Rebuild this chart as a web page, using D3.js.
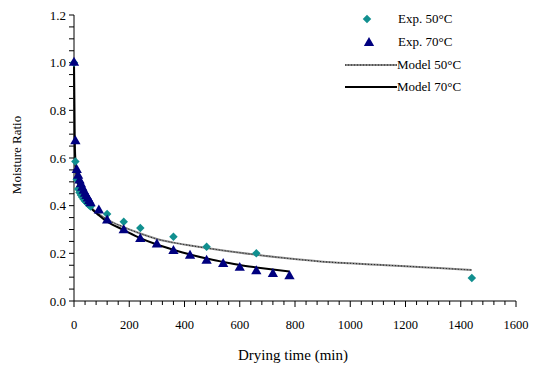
<!DOCTYPE html>
<html><head><meta charset="utf-8">
<script src="https://cdn.jsdelivr.net/npm/d3@7"></script>
<style>body{margin:0;background:#fff}svg{display:block}</style>
</head><body><svg id="c" width="533" height="378" font-family="'Liberation Serif', 'Times New Roman', 'DejaVu Serif', serif"></svg>
<script>
// Experimental data
const exp50Time = [0, 5, 10, 15, 20, 25, 30, 35, 40, 45, 50, 55, 60, 120, 180, 240, 360, 480, 660, 1440];
const exp50MR   = [1.0, 0.585, 0.51, 0.47, 0.455, 0.445, 0.435, 0.427, 0.42, 0.414, 0.408, 0.402, 0.397, 0.365, 0.333, 0.306, 0.27, 0.228, 0.20, 0.097];
const exp70Time = [0, 5, 10, 15, 20, 25, 30, 35, 40, 45, 50, 55, 60, 90, 120, 180, 240, 300, 360, 420, 480, 540, 600, 660, 720, 780];
const exp70MR   = [1.0, 0.67, 0.55, 0.525, 0.505, 0.49, 0.475, 0.462, 0.45, 0.44, 0.43, 0.42, 0.41, 0.38, 0.338, 0.297, 0.26, 0.237, 0.21, 0.19, 0.169, 0.155, 0.139, 0.125, 0.113, 0.104];
// Model curves
const model50Time = [0, 2, 5, 10, 20, 40, 60, 90, 120, 180, 240, 300, 360, 420, 480, 540, 660, 780, 900, 1000, 1100, 1200, 1320, 1440];
const model50MR   = [1.0, 0.72, 0.6, 0.53, 0.475, 0.425, 0.395, 0.365, 0.342, 0.31, 0.283, 0.26, 0.245, 0.233, 0.222, 0.212, 0.194, 0.178, 0.165, 0.158, 0.152, 0.146, 0.138, 0.13];
const model70Time = [0, 2, 5, 10, 20, 40, 60, 90, 120, 180, 240, 300, 360, 420, 480, 540, 600, 660, 720, 780];
const model70MR   = [1.0, 0.7, 0.58, 0.52, 0.475, 0.425, 0.392, 0.36, 0.333, 0.298, 0.264, 0.237, 0.215, 0.195, 0.178, 0.164, 0.151, 0.141, 0.132, 0.124];
const xTicks = [0, 200, 400, 600, 800, 1000, 1200, 1400, 1600];
const yTicks = [0.0, 0.2, 0.4, 0.6, 0.8, 1.0, 1.2];
const legendLabels = ["Exp. 50°C", "Exp. 70°C", "Model 50°C", "Model 70°C"];

const svg = d3.select("#c");
const x = d3.scaleLinear().domain([0, 1600]).range([74, 516]);
const y = d3.scaleLinear().domain([0, 1.2]).range([301, 15]);

// axes
const gx = svg.append("g").attr("transform", "translate(0,301)");
gx.append("line").attr("x1", x(0)).attr("x2", x(1600)).attr("stroke", "#000");
gx.selectAll(".mt").data(d3.range(0, 1601, 40)).join("line")
  .attr("x1", d => x(d)).attr("x2", d => x(d)).attr("y1", 0).attr("y2", d => d % 200 === 0 ? 6 : 4).attr("stroke", "#000");
gx.selectAll(".lb").data(xTicks).join("text")
  .attr("x", d => x(d)).attr("y", 28).attr("text-anchor", "middle").attr("font-size", 12.5).text(d => d);

const gy = svg.append("g").attr("transform", "translate(74,0)");
gy.append("line").attr("y1", y(0)).attr("y2", y(1.2)).attr("stroke", "#000");
gy.selectAll(".mt").data(d3.range(0, 25)).join("line")
  .attr("y1", d => y(d * 0.05)).attr("y2", d => y(d * 0.05)).attr("x1", -5).attr("x2", 0).attr("stroke", "#000");
gy.selectAll(".lb").data(yTicks).join("text")
  .attr("x", -8).attr("y", d => y(d) + 4.5).attr("text-anchor", "end").attr("font-size", 13).text(d => d.toFixed(1));

svg.append("text").attr("x", 293).attr("y", 360).attr("text-anchor", "middle").attr("font-size", 15).text("Drying time (min)");
svg.append("text").attr("transform", "translate(21,155) rotate(-90)").attr("text-anchor", "middle").attr("font-size", 13).text("Moisture Ratio");

// model lines
const line = d3.line().x(d => x(d[0])).y(d => y(d[1])).curve(d3.curveMonotoneX);
const m50 = model50Time.map((t, i) => [t, model50MR[i]]);
const m70 = model70Time.map((t, i) => [t, model70MR[i]]);
svg.append("path").attr("d", line(m50)).attr("fill", "none").attr("stroke", "#888").attr("stroke-width", 2);
svg.append("path").attr("d", line(m50)).attr("fill", "none").attr("stroke", "#222").attr("stroke-width", 1).attr("stroke-dasharray", "1,2");
svg.append("path").attr("d", line(m70)).attr("fill", "none").attr("stroke", "#000").attr("stroke-width", 2);

// markers
const diamond = d3.symbol().type(d3.symbolDiamond2).size(46);
const tri = d3.symbol().type(d3.symbolTriangle).size(46);
const teal = "#118f8f", navy = "#00007f";
svg.selectAll(".d50").data(exp50Time.map((t, i) => [t, exp50MR[i]])).join("path")
  .attr("d", diamond).attr("transform", d => `translate(${x(d[0])},${y(d[1])})`).attr("fill", teal);
svg.selectAll(".t70").data(exp70Time.map((t, i) => [t, exp70MR[i]])).join("path")
  .attr("d", tri).attr("transform", d => `translate(${x(d[0])},${y(d[1])})`).attr("fill", navy);

// legend
const lg = svg.append("g");
lg.append("path").attr("d", diamond).attr("transform", "translate(367,19)").attr("fill", teal);
lg.append("path").attr("d", tri).attr("transform", "translate(369,43)").attr("fill", navy);
lg.append("line").attr("x1", 345).attr("x2", 397).attr("y1", 65).attr("y2", 65).attr("stroke", "#888").attr("stroke-width", 2);
lg.append("line").attr("x1", 345).attr("x2", 397).attr("y1", 65).attr("y2", 65).attr("stroke", "#222").attr("stroke-width", 1).attr("stroke-dasharray", "1,2");
lg.append("line").attr("x1", 345).attr("x2", 397).attr("y1", 87).attr("y2", 87).attr("stroke", "#000").attr("stroke-width", 2);
const lx = [398, 398, 397, 397], ly = [23, 46, 69, 91];
lg.selectAll("text").data(legendLabels).join("text")
  .attr("x", (d, i) => lx[i]).attr("y", (d, i) => ly[i]).attr("font-size", 13).text(d => d);
</script></body></html>
